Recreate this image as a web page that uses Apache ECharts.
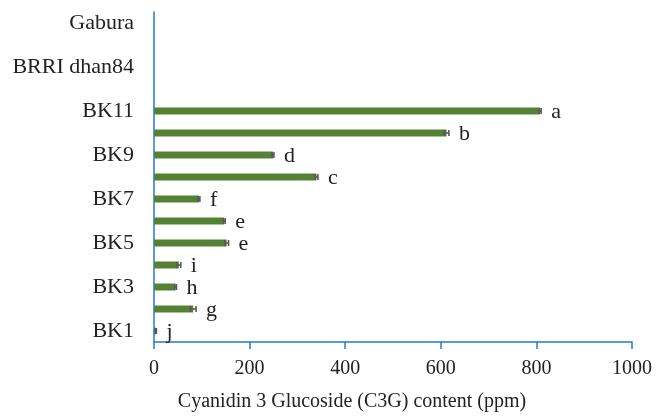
<!DOCTYPE html>
<html>
<head>
<meta charset="utf-8">
<script src="https://cdn.jsdelivr.net/npm/echarts@6/dist/echarts.min.js"></script>
<style>
  html, body { margin: 0; padding: 0; background: #fff; }
  #main { width: 657px; height: 417px; }
</style>
</head>
<body>
<div id="main"></div>
<script>
// categories bottom -> top (every other one labelled)
var genotypes = ["BK1", "BK2", "BK3", "BK4", "BK5", "BK6", "BK7", "BK8", "BK9", "BK10", "BK11", " ", "BRRI dhan84", "  ", "Gabura"];
var c3g = [4, 82, 45, 52, 152, 147, 94, 340, 249, 612, 808, 0, 0, 0, 0];
var c3gErr = [1, 6, 2, 4, 4, 2, 2, 3, 2, 5, 2, 0, 0, 0, 0];
var letters = ["j", "g", "h", "i", "e", "e", "f", "c", "d", "b", "a", "", "", "", ""];
var xTicks = { min: 0, max: 1000, interval: 200 };

var axisBlue = "#2479d0";
var serif = "'Liberation Serif', 'Times New Roman', serif";

var chart = echarts.init(document.getElementById("main"));

var errData = [];
for (var i = 0; i < c3g.length; i++) {
  errData.push([c3g[i], i, c3gErr[i], letters[i]]);
}

var option = {
  animation: false,
  grid: { left: 154, top: 12, right: 25, bottom: 72, containLabel: false },
  xAxis: {
    type: "value",
    min: xTicks.min,
    max: xTicks.max,
    interval: xTicks.interval,
    name: "Cyanidin 3 Glucoside (C3G) content (ppm)",
    nameLocation: "middle",
    nameGap: 50,
    nameTextStyle: { fontFamily: serif, fontSize: 20, color: "#222", padding: [0, 82, 0, 0] },
    axisLine: { show: true, lineStyle: { color: axisBlue, width: 1.5 } },
    axisTick: { show: true, length: 7, lineStyle: { color: axisBlue, width: 1.5 } },
    axisLabel: { fontFamily: serif, fontSize: 20, color: "#222", margin: 17, formatter: function (v) { return String(v); } },
    splitLine: { show: false }
  },
  yAxis: {
    type: "category",
    data: genotypes,
    axisLine: { show: true, lineStyle: { color: axisBlue, width: 1.5 } },
    axisTick: { show: false },
    axisLabel: { interval: 1, fontFamily: serif, fontSize: 22, color: "#222", margin: 20 },
    splitLine: { show: false }
  },
  series: [
    {
      type: "bar",
      data: c3g,
      barWidth: 7,
      itemStyle: { color: "#548235" },
      z: 2
    },
    {
      type: "custom",
      data: errData,
      z: 3,
      renderItem: function (params, api) {
        var v = api.value(0), idx = api.value(1), e = api.value(2);
        var letter = errData[params.dataIndex][3];
        if (!letter) return null;
        var lo = api.coord([v - e, idx]);
        var hi = api.coord([v + e, idx]);
        var cap = 3;
        var st = { stroke: "#595959", lineWidth: 1.6 };
        return {
          type: "group",
          children: [
            { type: "line", shape: { x1: lo[0], y1: lo[1], x2: hi[0], y2: hi[1] }, style: st },
            { type: "line", shape: { x1: lo[0], y1: lo[1] - cap, x2: lo[0], y2: lo[1] + cap }, style: st },
            { type: "line", shape: { x1: hi[0], y1: hi[1] - cap, x2: hi[0], y2: hi[1] + cap }, style: st },
            {
              type: "text",
              x: hi[0] + 10,
              y: hi[1] + 1,
              style: {
                text: letter,
                fontFamily: serif,
                fontSize: 22,
                fill: "#222",
                verticalAlign: "middle",
                align: "left"
              }
            }
          ]
        };
      }
    }
  ]
};

chart.setOption(option);
</script>
</body>
</html>
